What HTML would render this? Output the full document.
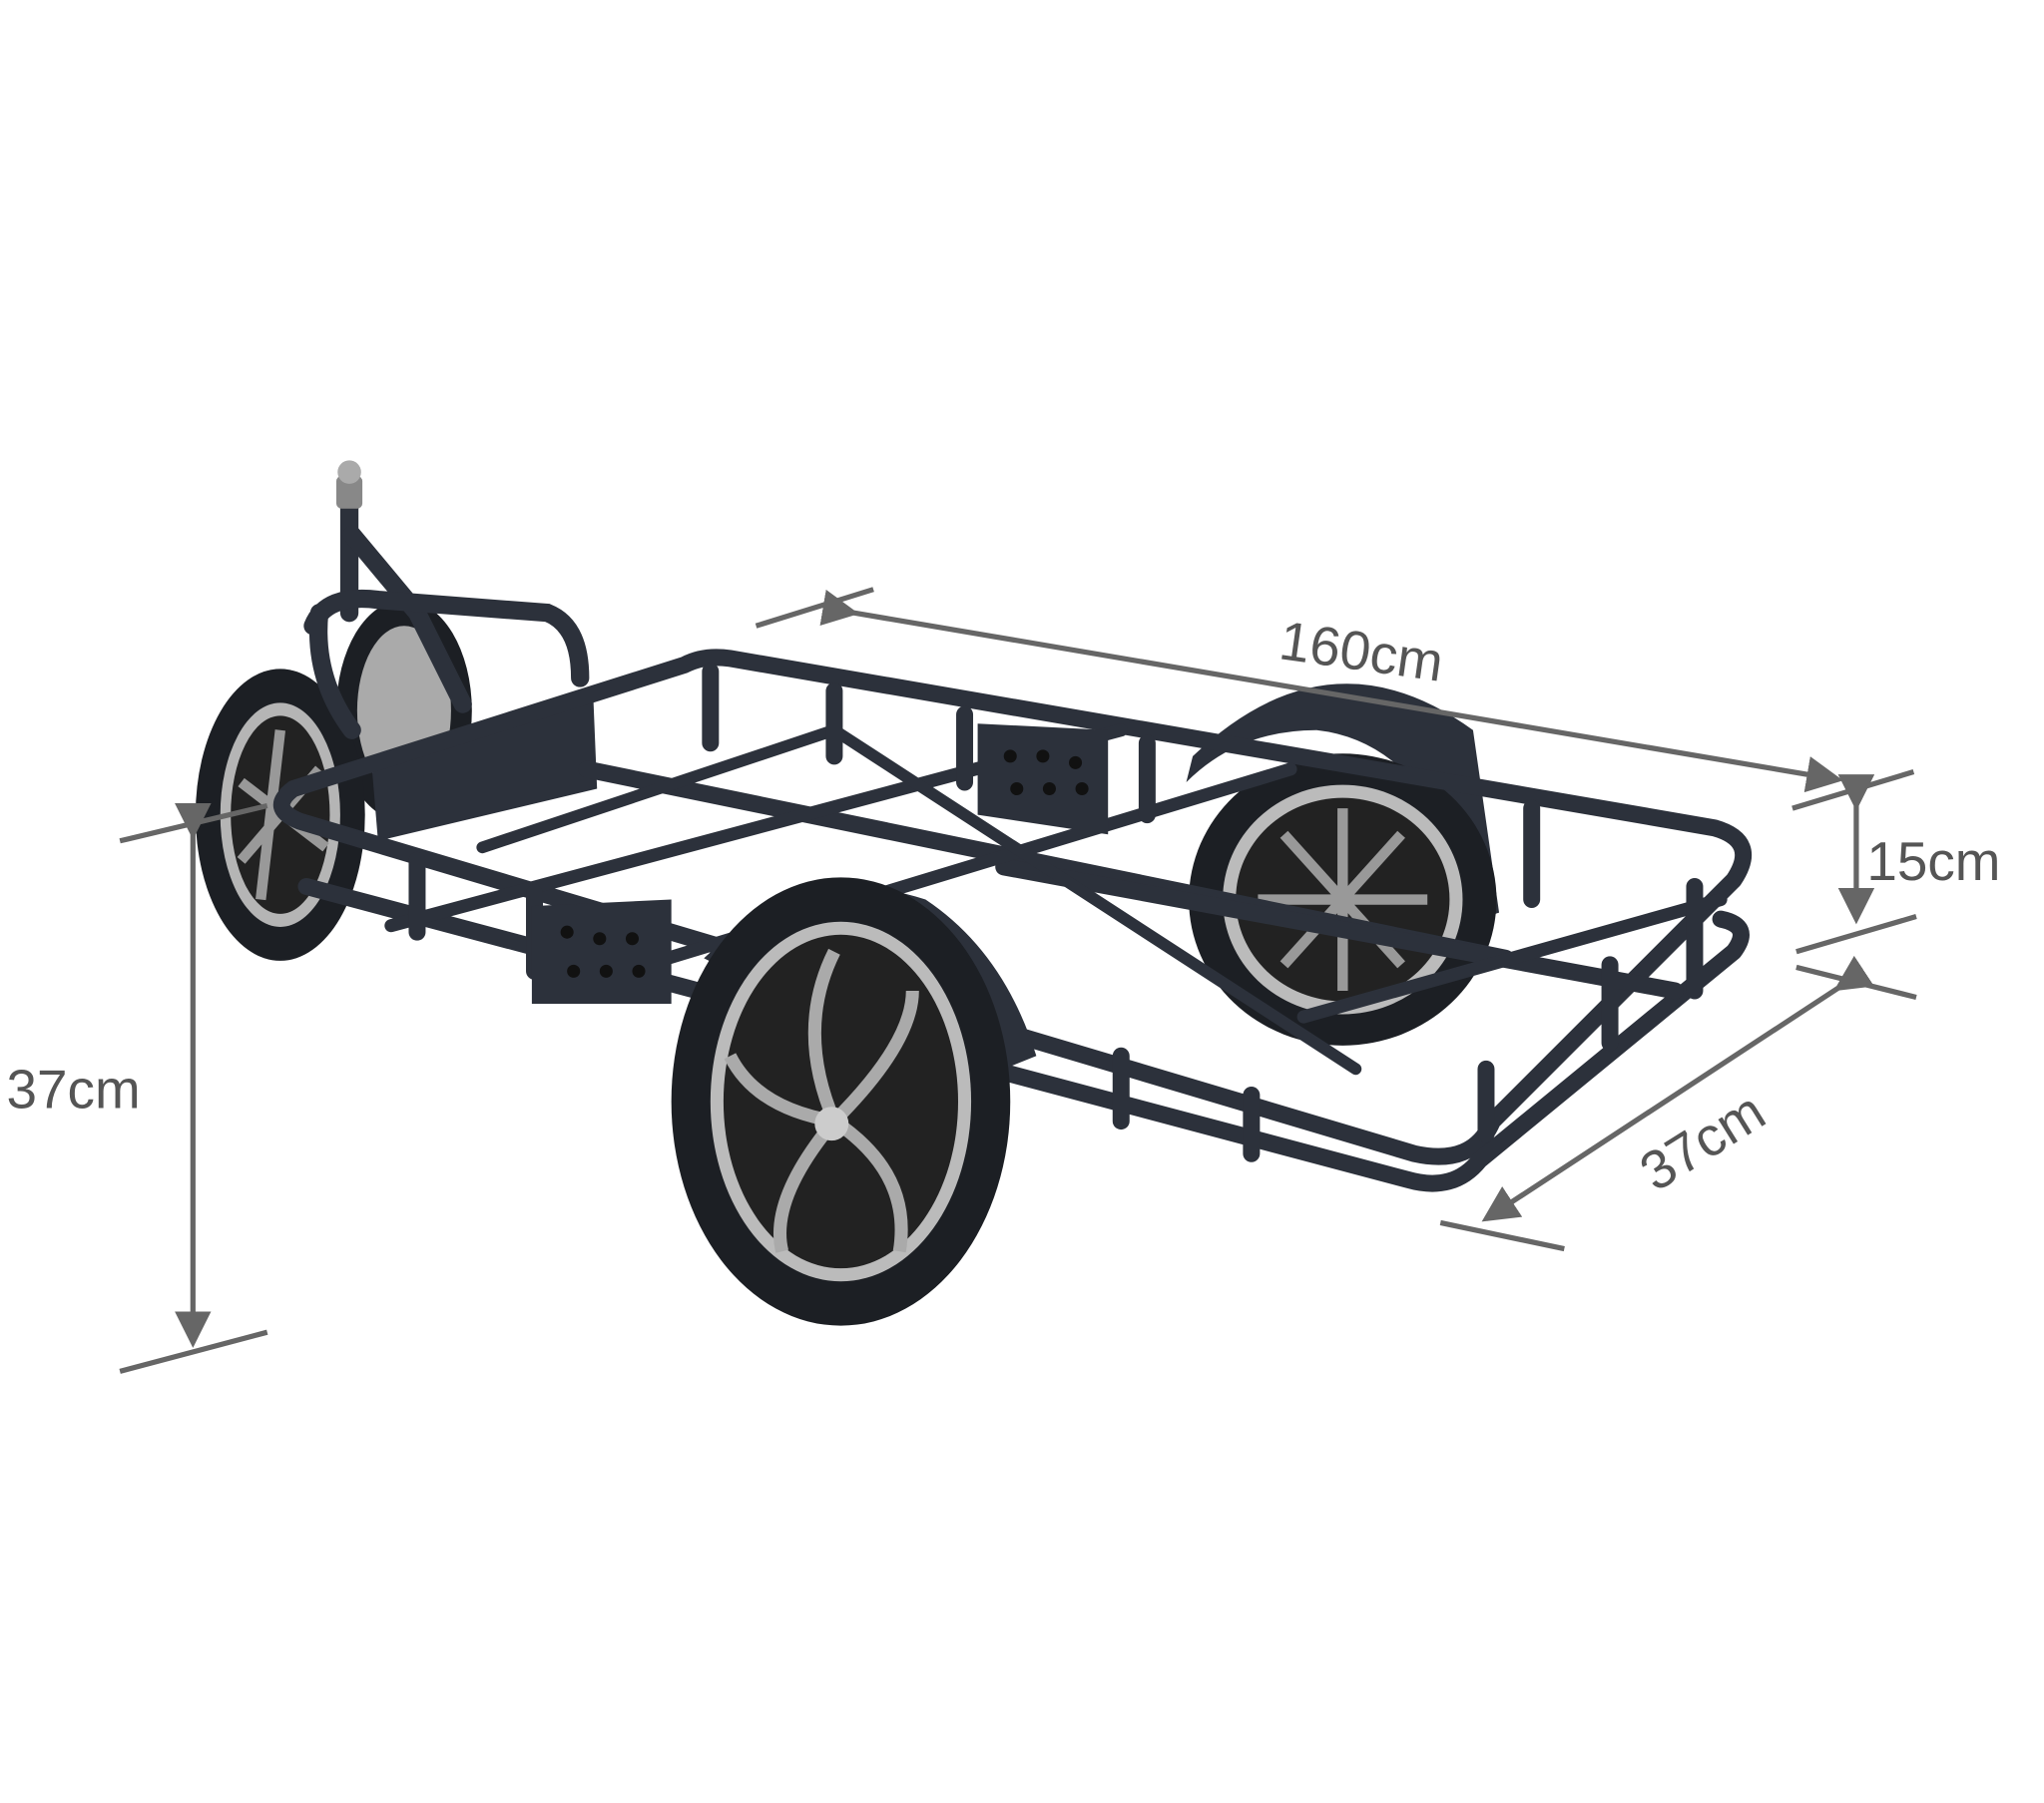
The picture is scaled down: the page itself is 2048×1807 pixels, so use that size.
<!DOCTYPE html>
<html><head><meta charset="utf-8"><style>
html,body{margin:0;padding:0;background:#fff;}
svg{display:block}
text{font-family:"Liberation Sans",sans-serif;fill:#555;}
</style></head><body>
<svg width="2048" height="1807" viewBox="0 0 1568 1383" xmlns="http://www.w3.org/2000/svg">
<defs>
<marker id="ah" markerWidth="7" markerHeight="7" refX="6" refY="3.5" orient="auto" markerUnits="strokeWidth"><path d="M0,0 L7,3.5 L0,7 z" fill="#666"/></marker>
</defs>
<rect width="1568" height="1383" fill="#fff"/>

<g>
 <ellipse cx="310" cy="545" rx="52" ry="85" fill="#1c1f24"/>
 <ellipse cx="310" cy="545" rx="36" ry="65" fill="#aaa"/>
 <ellipse cx="215" cy="625" rx="65" ry="112" fill="#1c1f24"/>
 <ellipse cx="215" cy="625" rx="46" ry="86" fill="#b5b5b5"/>
 <ellipse cx="215" cy="625" rx="38" ry="76" fill="#222"/>
 <path d="M215 560 L200 690 M185 600 L250 650 M245 590 L185 660" stroke="#999" stroke-width="8"/>
 <path d="M915 580 Q1020 480 1130 560 L1150 700 L1135 705 Q1100 570 1010 560 Q950 560 910 600 Z" fill="#2c313b"/>
 <ellipse cx="1030" cy="690" rx="118" ry="112" fill="#1c1f24"/>
 <ellipse cx="1030" cy="690" rx="92" ry="88" fill="#bbb"/>
 <ellipse cx="1030" cy="690" rx="82" ry="78" fill="#222"/>
 <path d="M1030 620 L1030 760 M965 690 L1095 690 M985 640 L1075 740 M1075 640 L985 740" stroke="#999" stroke-width="8"/>
</g>

<g stroke="#2c313b" stroke-width="14" fill="none" stroke-linecap="round">
 <line x1="268" y1="385" x2="268" y2="470"/>
 <path d="M270 410 L320 470 L355 540"/>
 <path d="M240 480 Q250 455 290 460 L420 470 Q445 480 445 520"/>
 <path d="M245 470 Q240 520 270 560"/>
</g>
<rect x="258" y="365" width="20" height="25" rx="4" fill="#888"/>
<circle cx="268" cy="362" r="9" fill="#aaa"/>

<polygon points="285,585 455,532 458,605 290,645" fill="#2c313b"/>

<g stroke="#2c313b" stroke-width="13" fill="none" stroke-linejoin="round" stroke-linecap="round">
 <path d="M225 605 Q205 620 230 630 L1085 885 Q1130 895 1145 860 L1330 675 Q1350 645 1315 635 L560 505 Q540 502 525 510 Z"/>
 <path d="M235 680 L1080 905 Q1115 915 1135 890 L1330 730 Q1345 710 1320 705"/>
 <path d="M450 590 L1155 735"/>
 <path d="M770 665 L1285 760"/>
 <path d="M300 710 L860 560" stroke-width="10"/>
 <path d="M430 760 L990 590" stroke-width="10"/>
 <path d="M1000 780 L1320 690" stroke-width="10"/>
 <path d="M370 650 L640 560 L1040 820" stroke-width="9"/>
 <path d="M320 660 L320 715 M410 685 L410 745 M860 810 L860 860 M960 840 L960 885 M1140 820 L1140 870 M1300 680 L1300 760 M1235 740 L1235 800 M545 515 L545 570 M640 530 L640 580 M740 548 L740 600 M880 570 L880 625 M1175 620 L1175 690"/>
</g>
<polygon points="408,695 515,690 515,770 408,770" fill="#2c313b"/>
<polygon points="750,555 850,560 850,640 750,625" fill="#2c313b"/>
<g fill="#111"><circle cx="435" cy="715" r="5"/><circle cx="460" cy="720" r="5"/><circle cx="485" cy="720" r="5"/><circle cx="440" cy="745" r="5"/><circle cx="465" cy="745" r="5"/><circle cx="490" cy="745" r="5"/><circle cx="775" cy="580" r="5"/><circle cx="800" cy="580" r="5"/><circle cx="825" cy="585" r="5"/><circle cx="780" cy="605" r="5"/><circle cx="805" cy="605" r="5"/><circle cx="830" cy="605" r="5"/></g>

<path d="M540 735 Q620 660 710 690 Q770 730 795 810 L770 820 Q740 730 650 715 Q590 715 560 745 Z" fill="#2c313b"/>
<ellipse cx="645" cy="845" rx="130" ry="172" fill="#1c1f24"/>
<ellipse cx="645" cy="845" rx="100" ry="138" fill="#bbb"/>
<ellipse cx="645" cy="845" rx="90" ry="128" fill="#222"/>
<g stroke="#aaa" stroke-width="10" fill="none">
 <path d="M640 860 Q610 790 640 730"/><path d="M640 860 Q700 800 700 760"/><path d="M640 860 Q700 900 690 960"/><path d="M640 860 Q590 920 600 960"/><path d="M640 860 Q580 850 560 810"/>
</g>
<circle cx="638" cy="862" r="13" fill="#ccc"/>

<g stroke="#666" stroke-width="4" fill="none">
 <line x1="580" y1="480" x2="670" y2="452"/>
 <line x1="1375" y1="620" x2="1468" y2="592"/>
 <line x1="1378" y1="730" x2="1470" y2="703"/>
 <line x1="1378" y1="742" x2="1470" y2="765"/>
 <line x1="1105" y1="938" x2="1200" y2="958"/>
 <line x1="92" y1="645" x2="205" y2="618"/>
 <line x1="92" y1="1052" x2="205" y2="1022"/>
 <line x1="655" y1="470" x2="1410" y2="598" marker-end="url(#ah)" marker-start="url(#ah)"/>
 <line x1="1424" y1="618" x2="1424" y2="705" marker-end="url(#ah)" marker-start="url(#ah)"/>
 <line x1="1410" y1="758" x2="1140" y2="935" marker-end="url(#ah)" marker-start="url(#ah)"/>
 <line x1="148" y1="640" x2="148" y2="1030" marker-end="url(#ah)" marker-start="url(#ah)"/>
</g>
<text x="980" y="505" font-size="42" transform="rotate(8 980 505)">160cm</text>
<text x="1432" y="675" font-size="42">15cm</text>
<text x="1270" y="915" font-size="42" transform="rotate(-32 1270 915)">37cm</text>
<text x="5" y="850" font-size="42">37cm</text>
</svg>
</body></html>
